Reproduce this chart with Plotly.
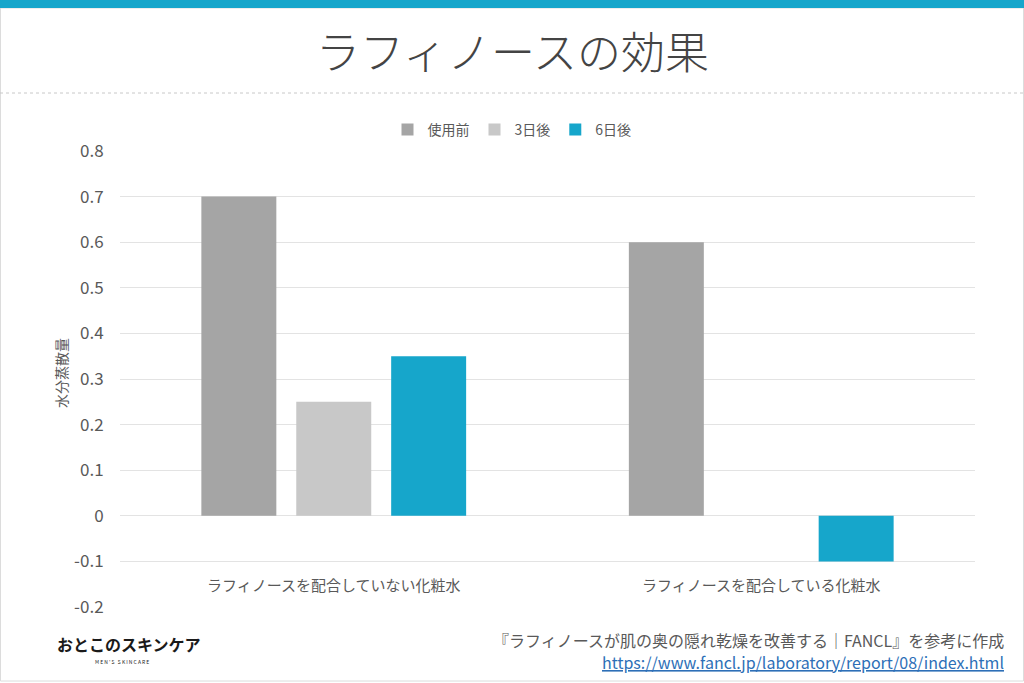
import plotly.graph_objects as go

categories = ["ラフィノースを配合していない化粧水", "ラフィノースを配合している化粧水"]
series_names = ["使用前", "3日後", "6日後"]
before = [0.7, 0.6]
day3 = [0.25, 0.0]
day6 = [0.35, -0.1]
colors = ["#a5a5a5", "#c8c8c8", "#16a6cb"]
y_ticks = [0.8, 0.7, 0.6, 0.5, 0.4, 0.3, 0.2, 0.1, 0, -0.1, -0.2]
y_tick_text = ["0.8", "0.7", "0.6", "0.5", "0.4", "0.3", "0.2", "0.1", "0", "-0.1", "-0.2"]

FONT = "Noto Sans CJK JP"
W, H = 1024, 683
L, R, T, B = 120, 49, 151, 76
PW, PH = W - L - R, H - T - B


def px(x):
    return (x - L) / PW


def py(y):
    return (H - B - y) / PH


fig = go.Figure()
for name, vals, col in zip(series_names, [before, day3, day6], colors):
    fig.add_trace(go.Bar(x=categories, y=vals, name=name, marker=dict(color=col, line=dict(width=0))))

fig.update_layout(
    width=W, height=H,
    margin=dict(l=L, r=R, t=T, b=B),
    paper_bgcolor="white", plot_bgcolor="white",
    font=dict(family=FONT, color="#595959"),
    barmode="group", bargap=0.334, bargroupgap=0.21,
    showlegend=True,
    legend=dict(orientation="h", x=px(512), xanchor="center", y=py(130), yanchor="middle",
                font=dict(size=14, color="#595959"), itemwidth=30, traceorder="normal",
                bgcolor="rgba(0,0,0,0)"),
    xaxis=dict(showticklabels=False, showgrid=False, zeroline=False, showline=False, ticks=""),
    yaxis=dict(range=[-0.2, 0.8], tickvals=y_ticks, ticktext=y_tick_text, showgrid=True,
               gridcolor="#e3e3e3", gridwidth=1, zeroline=True, zerolinecolor="#e3e3e3",
               zerolinewidth=1, showline=False, ticks="outside", ticklen=12, tickcolor="rgba(0,0,0,0)",
               tickfont=dict(size=17, color="#595959")),
)

shapes = [
    # page border
    dict(type="rect", xref="paper", yref="paper", x0=px(0.5), x1=px(1023.5), y0=py(681), y1=py(8),
         line=dict(color="#dcdcdc", width=1), fillcolor="rgba(0,0,0,0)", layer="below"),
    # top band
    dict(type="rect", xref="paper", yref="paper", x0=px(0), x1=px(W), y0=py(8), y1=py(0),
         line=dict(width=0), fillcolor="#16a6cb"),
    # dashed separator
    dict(type="line", xref="paper", yref="paper", x0=px(0), x1=px(W), y0=py(93), y1=py(93),
         line=dict(color="#c8c8c8", width=1, dash="dot")),
]
fig.update_layout(shapes=shapes)

ann = [
    dict(text="ラフィノースの効果", x=px(512), y=py(50), xref="paper", yref="paper",
         showarrow=False, xanchor="center", yanchor="middle",
         font=dict(size=44, color="#444444", family=FONT, weight=300)),
    dict(text="水分蒸散量", x=px(61), y=py(373), xref="paper", yref="paper", textangle=-90,
         showarrow=False, xanchor="center", yanchor="middle", font=dict(size=14, color="#595959")),
    dict(text="『ラフィノースが肌の奥の隠れ乾燥を改善する｜FANCL』を参考に作成",
         x=px(1006), y=py(640), xref="paper", yref="paper", showarrow=False,
         xanchor="right", yanchor="middle", font=dict(size=16, color="#595959")),
    dict(text="<u>https://www.fancl.jp/laboratory/report/08/index.html</u>",
         x=px(1006), y=py(662), xref="paper", yref="paper", showarrow=False,
         xanchor="right", yanchor="middle", font=dict(size=16, color="#2d6fb7")),
    dict(text="<b>おとこのスキンケア</b>", x=px(55), y=py(644), xref="paper", yref="paper",
         showarrow=False, xanchor="left", yanchor="middle", font=dict(size=16, color="#1a1a1a")),
    dict(text="M E N ' S   S K I N C A R E", x=px(122), y=py(661), xref="paper", yref="paper",
         showarrow=False, xanchor="center", yanchor="middle", font=dict(size=5, color="#1a1a1a")),
]
for c in categories:
    ann.append(dict(text=c, x=c, y=-0.15, xref="x", yref="y", showarrow=False,
                    xanchor="center", yanchor="middle", font=dict(size=15, color="#595959")))
fig.update_layout(annotations=ann)

fig.write_html("out.html")
